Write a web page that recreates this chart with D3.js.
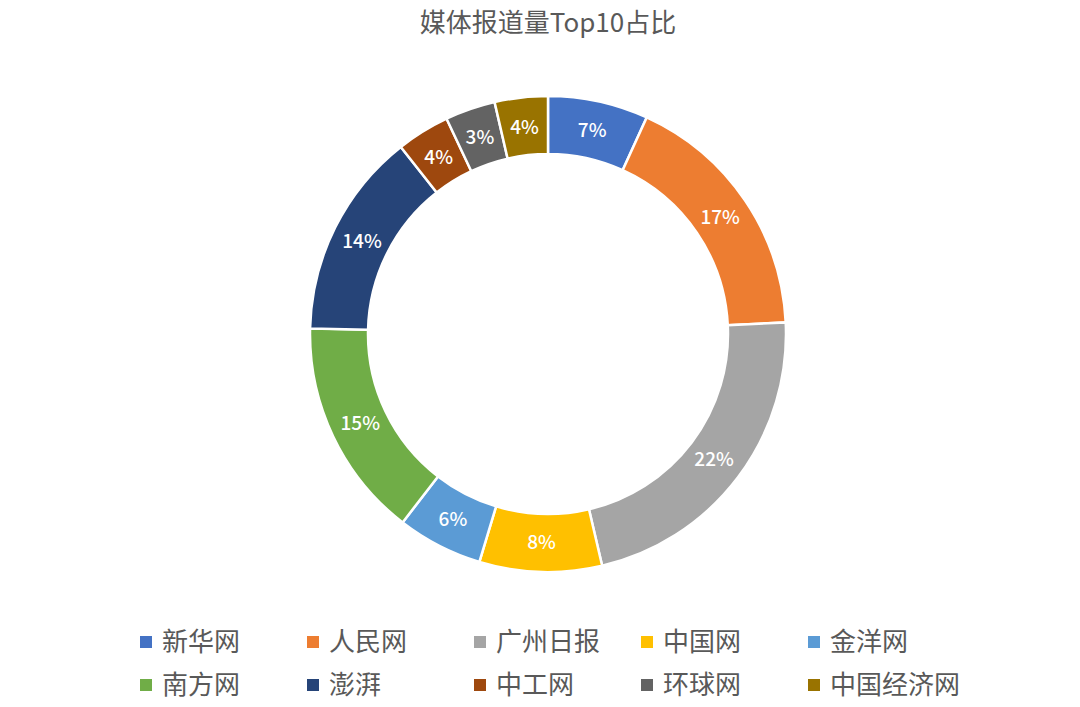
<!DOCTYPE html>
<html>
<head>
<meta charset="utf-8">
<script src="https://cdn.jsdelivr.net/npm/d3@7"></script>
<style>
  body { margin: 0; background: #fff; }
  text { font-family: "Noto Sans CJK SC", "Noto Sans", sans-serif; }
</style>
</head>
<body>
<div id="chart"></div>
<script>
var media = ["新华网", "人民网", "广州日报", "中国网", "金洋网", "南方网", "澎湃", "中工网", "环球网", "中国经济网"];
var counts = [68, 174, 221, 83, 58, 149, 140, 36, 34, 36];
var colors = ["#4472C4", "#ED7D31", "#A5A5A5", "#FFC000", "#5B9BD5", "#70AD47", "#264478", "#9E480E", "#636363", "#997300"];
var title = "媒体报道量Top10占比";

var width = 1080, height = 707;
var cx = 548, cy = 334, outerR = 238, innerR = 180;

var svg = d3.select("#chart")
    .append("svg")
    .attr("width", width)
    .attr("height", height);

svg.append("text")
    .attr("x", cx)
    .attr("y", 32)
    .attr("text-anchor", "middle")
    .style("font-size", "26px")
    .style("fill", "#595959")
    .text(title);

var total = d3.sum(counts);
var data = media.map(function (m, i) { return { name: m, value: counts[i] }; });

var pie = d3.pie()
    .sort(null)
    .value(function (d) { return d.value; });

var arc = d3.arc().innerRadius(innerR).outerRadius(outerR);
var labelArc = d3.arc().innerRadius(208).outerRadius(208);

var color = d3.scaleOrdinal().domain(media).range(colors);

var g = svg.append("g")
    .attr("transform", "translate(" + cx + "," + cy + ")");

var slices = g.selectAll(".slice")
    .data(pie(data))
    .enter()
    .append("g");

slices.append("path")
    .attr("d", arc)
    .attr("fill", function (d) { return color(d.data.name); })
    .attr("stroke", "#fff")
    .attr("stroke-width", 2.5);

slices.append("text")
    .attr("transform", function (d) { return "translate(" + labelArc.centroid(d) + ")"; })
    .attr("text-anchor", "middle")
    .attr("dy", "0.35em")
    .style("font-size", "19px")
    .style("font-weight", "500")
    .style("fill", "#fff")
    .text(function (d) { return Math.round(d.data.value / total * 100) + "%"; });

// legend, two rows of five
var legX = d3.scalePoint().domain(d3.range(5)).range([140, 808]);
var legY = [642, 685];

var legend = svg.selectAll(".legend")
    .data(media)
    .enter()
    .append("g")
    .attr("transform", function (d, i) {
        return "translate(" + legX(i % 5) + "," + legY[Math.floor(i / 5)] + ")";
    });

legend.append("rect")
    .attr("x", 0)
    .attr("y", -6)
    .attr("width", 12)
    .attr("height", 12)
    .attr("fill", function (d) { return color(d); });

legend.append("text")
    .attr("x", 22)
    .attr("dy", "0.35em")
    .style("font-size", "26px")
    .style("fill", "#595959")
    .text(function (d) { return d; });
</script>
</body>
</html>
